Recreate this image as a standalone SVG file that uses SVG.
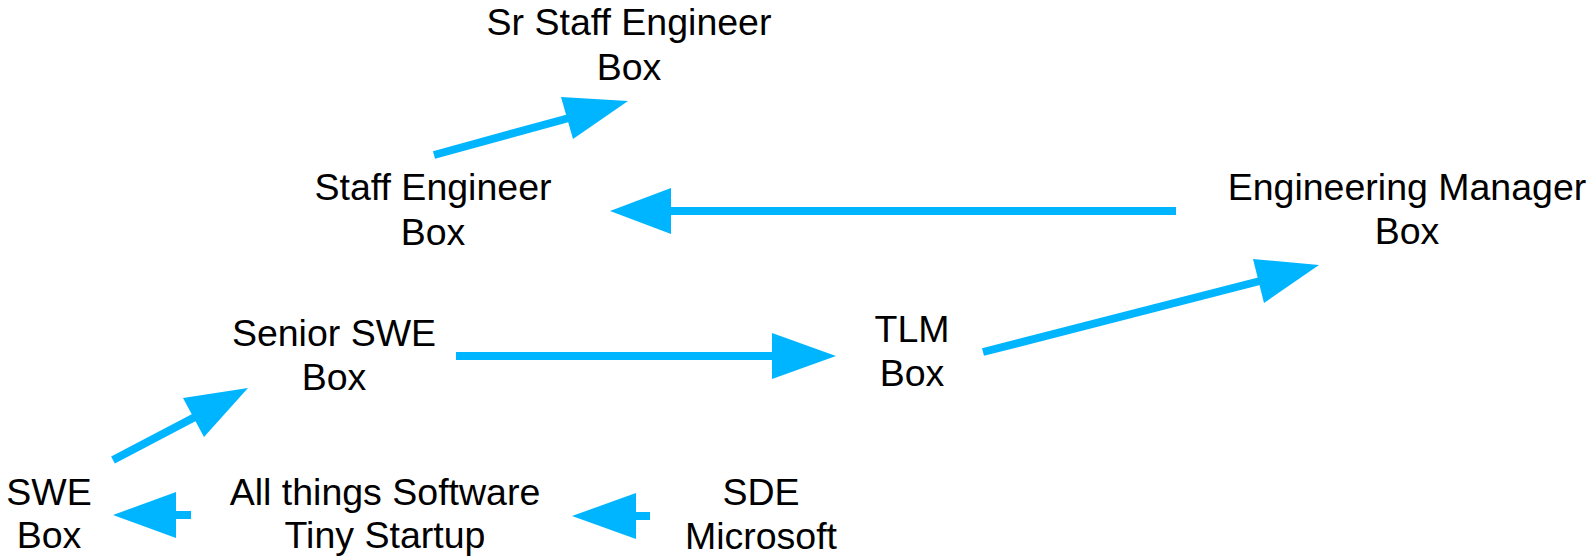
<svg xmlns="http://www.w3.org/2000/svg" width="1594" height="560" viewBox="0 0 1594 560">
<style>
text{font-family:"Liberation Sans",Arial,sans-serif;font-size:37.5px;fill:#000;text-anchor:middle}
.ln{stroke:#00B5FF;stroke-width:8;fill:none}
.hd{fill:#00B5FF}
</style>
<rect width="1594" height="560" fill="#fff"/>
<g id="connectors">
<line class="ln" x1="113" y1="460" x2="195" y2="417"/><polygon class="hd" points="248,388 183,398 204,437"/>
<line class="ln" x1="191" y1="515" x2="174" y2="515"/><polygon class="hd" points="113,515 176,492 176,538"/>
<line class="ln" x1="650" y1="516" x2="634" y2="516"/><polygon class="hd" points="572,516 636,493 636,539"/>
<line class="ln" x1="434" y1="155" x2="569" y2="118"/><polygon class="hd" points="628,101 561,97 573,139"/>
<line class="ln" x1="1176" y1="211" x2="668" y2="211"/><polygon class="hd" points="610,211 671,188 671,234"/>
<line class="ln" x1="456" y1="356" x2="774" y2="356"/><polygon class="hd" points="836,356 772,333 772,379"/>
<line class="ln" x1="983" y1="352" x2="1260" y2="281"/><polygon class="hd" points="1319,265 1253,259 1264,303"/>
</g>
<g id="sr-staff"><text x="629" y="35">Sr Staff Engineer</text><text x="629" y="80">Box</text></g>
<g id="staff"><text x="433" y="200">Staff Engineer</text><text x="433" y="245">Box</text></g>
<g id="em"><text x="1407" y="200">Engineering Manager</text><text x="1407" y="244">Box</text></g>
<g id="senior"><text x="334" y="346">Senior SWE</text><text x="334" y="390">Box</text></g>
<g id="tlm"><text x="912" y="342">TLM</text><text x="912" y="386">Box</text></g>
<g id="swe"><text x="49" y="505">SWE</text><text x="49" y="548">Box</text></g>
<g id="startup"><text x="385" y="505">All things Software</text><text x="385" y="548">Tiny Startup</text></g>
<g id="sde"><text x="761" y="505">SDE</text><text x="761" y="549">Microsoft</text></g>
</svg>
